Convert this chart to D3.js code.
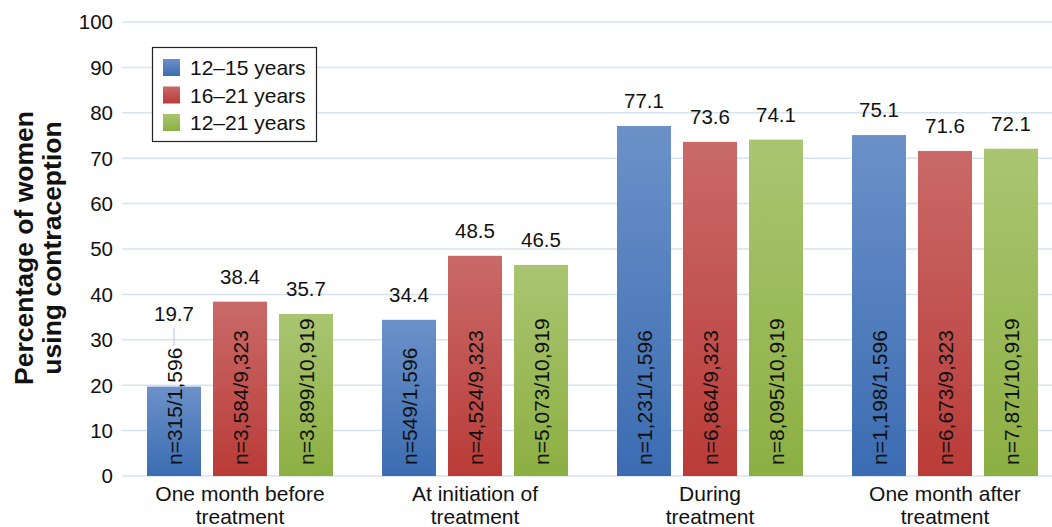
<!DOCTYPE html>
<html>
<head>
<meta charset="utf-8">
<script src="https://cdn.jsdelivr.net/npm/d3@7"></script>
<style>
  body { margin: 0; background: #fff; }
  text { font-family: "Liberation Sans", Arial, sans-serif; fill: #111; }
</style>
</head>
<body>
<div id="chart"></div>
<script>
// chart data
var periods = [
    ["One month before", "treatment"],
    ["At initiation of", "treatment"],
    ["During", "treatment"],
    ["One month after", "treatment"]
];
var groups = ["12\u201315 years", "16\u201321 years", "12\u201321 years"];
var age12to15 = [19.7, 34.4, 77.1, 75.1];
var age16to21 = [38.4, 48.5, 73.6, 71.6];
var age12to21 = [35.7, 46.5, 74.1, 72.1];
var n12to15 = ["n=315/1,596", "n=549/1,596", "n=1,231/1,596", "n=1,198/1,596"];
var n16to21 = ["n=3,584/9,323", "n=4,524/9,323", "n=6,864/9,323", "n=6,673/9,323"];
var n12to21 = ["n=3,899/10,919", "n=5,073/10,919", "n=8,095/10,919", "n=7,871/10,919"];
var yTicks = [0, 10, 20, 30, 40, 50, 60, 70, 80, 90, 100];

var seriesValues = [age12to15, age16to21, age12to21];
var seriesN = [n12to15, n16to21, n12to21];
var gradients = [["#6b91c8", "#3b6cb2"], ["#c96a68", "#ba3b38"], ["#aac571", "#8caf42"]];

var width = 1052, height = 527;
var svg = d3.select("#chart").append("svg")
    .attr("width", width)
    .attr("height", height);

var defs = svg.append("defs");
gradients.forEach(function (g, i) {
    var lg = defs.append("linearGradient")
        .attr("id", "grad" + i)
        .attr("x1", 0).attr("y1", 0).attr("x2", 0).attr("y2", 1);
    lg.append("stop").attr("offset", "0%").attr("stop-color", g[0]);
    lg.append("stop").attr("offset", "100%").attr("stop-color", g[1]);
});

var x0 = d3.scaleBand()
    .domain(d3.range(periods.length))
    .range([122.5, 1062.5])
    .paddingInner(0.2085)
    .paddingOuter(0.1043);

var x1 = d3.scaleBand()
    .domain(d3.range(groups.length))
    .range([0, x0.bandwidth()])
    .paddingInner(0.182);

var y = d3.scaleLinear().domain([0, 100]).range([476, 22]);

// gridlines
svg.append("g")
    .selectAll("line")
    .data(yTicks)
    .join("line")
    .attr("x1", 122)
    .attr("x2", width)
    .attr("y1", function (d) { return y(d); })
    .attr("y2", function (d) { return y(d); })
    .attr("stroke", "#d6e3f1")
    .attr("stroke-width", 1.5);

// y tick labels
svg.append("g")
    .selectAll("text")
    .data(yTicks)
    .join("text")
    .attr("x", 113)
    .attr("y", function (d) { return y(d); })
    .attr("dy", "0.36em")
    .attr("text-anchor", "end")
    .style("font-size", "20.5px")
    .text(function (d) { return d; });

// y axis title
var yTitle = svg.append("text")
    .attr("transform", "translate(0,248) rotate(-90)")
    .attr("text-anchor", "middle")
    .style("font-size", "26.5px")
    .style("font-weight", "bold");
yTitle.append("tspan").attr("x", 0).attr("y", 33).text("Percentage of women");
yTitle.append("tspan").attr("x", 0).attr("y", 61).text("using contraception");

// bars
var groupG = svg.append("g")
    .selectAll("g")
    .data(periods)
    .join("g")
    .attr("transform", function (d, i) { return "translate(" + x0(i) + ",0)"; });

groupG.each(function (p, pi) {
    var g = d3.select(this);
    seriesValues.forEach(function (vals, si) {
        var v = vals[pi];
        var bx = x1(si), bw = x1.bandwidth();
        g.append("rect")
            .attr("x", bx)
            .attr("y", y(v))
            .attr("width", bw)
            .attr("height", y(0) - y(v))
            .attr("fill", "url(#grad" + si + ")");

        var nText = g.append("text")
            .attr("transform", "translate(" + (bx + bw / 2) + "," + (y(0) - 11) + ") rotate(-90)")
            .attr("dy", "0.36em")
            .style("font-size", "21px")
            .text(seriesN[si][pi]);
        var nTop = y(0) - 11 - nText.node().getComputedTextLength();

        // move the value label up when the n label sticks out of the bar
        var labelY = y(v) - 18;
        if (nTop < y(v)) {
            labelY = nTop - 27;
            g.append("line")
                .attr("x1", bx + bw / 2).attr("x2", bx + bw / 2)
                .attr("y1", labelY + 7).attr("y2", nTop - 2)
                .attr("stroke", "#c9daee")
                .attr("stroke-width", 1.5);
        }
        g.append("text")
            .attr("x", bx + bw / 2)
            .attr("y", labelY)
            .attr("text-anchor", "middle")
            .style("font-size", "20.5px")
            .text(v.toFixed(1));
    });
});

// category labels
svg.append("g")
    .selectAll("text")
    .data(periods)
    .join("text")
    .attr("text-anchor", "middle")
    .style("font-size", "21px")
    .each(function (d, i) {
        var t = d3.select(this);
        var cx = x0(i) + x0.bandwidth() / 2;
        t.append("tspan").attr("x", cx).attr("y", 501).text(d[0]);
        t.append("tspan").attr("x", cx).attr("y", 523.5).text(d[1]);
    });

// legend
var legend = svg.append("g");
legend.append("rect")
    .attr("x", 152.5).attr("y", 47.5)
    .attr("width", 164).attr("height", 94)
    .attr("fill", "#fff")
    .attr("stroke", "#222")
    .attr("stroke-width", 1.2);
groups.forEach(function (name, i) {
    var cy = 67.5 + i * 27.5;
    legend.append("rect")
        .attr("x", 163).attr("y", cy - 8.5)
        .attr("width", 17).attr("height", 17)
        .attr("fill", "url(#grad" + i + ")");
    legend.append("text")
        .attr("x", 190).attr("y", cy)
        .attr("dy", "0.36em")
        .style("font-size", "21px")
        .text(name);
});
</script>
</body>
</html>
